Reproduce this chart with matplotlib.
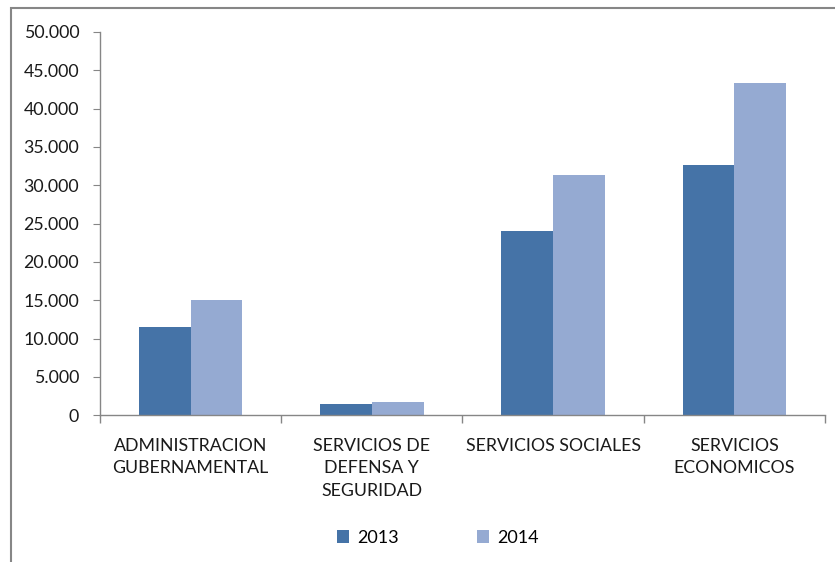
import matplotlib.pyplot as plt
import numpy as np
from matplotlib.patches import Rectangle
from matplotlib.ticker import FuncFormatter, FixedLocator

categorias = ["ADMINISTRACION\nGUBERNAMENTAL", "SERVICIOS DE\nDEFENSA Y\nSEGURIDAD",
              "SERVICIOS SOCIALES", "SERVICIOS\nECONOMICOS"]
valores_2013 = [11500, 1450, 24100, 32650]
valores_2014 = [15000, 1700, 31350, 43350]
series = ["2013", "2014"]
colores = ["#4573A7", "#95AAD2"]


def miles(v, pos):
    return "{:,.0f}".format(v).replace(",", ".")


def main():
    plt.rcParams['font.family'] = ['Lato', 'DejaVu Sans']
    fig = plt.figure(figsize=(8.35, 5.62), dpi=100)

    # marco exterior del grafico
    fig.patches.append(Rectangle((11 / 835, -0.05), 1.2, 1 - 8 / 562 + 0.05,
                                 transform=fig.transFigure, fill=False,
                                 edgecolor="#868686", linewidth=1.5))

    ax = fig.add_axes([100 / 835, 1 - 415.3 / 562, 725 / 835, (415.3 - 32) / 562])
    x = np.arange(len(categorias))
    w = 0.285
    b1 = ax.bar(x - w / 2, valores_2013, w, color=colores[0], label=series[0])
    b2 = ax.bar(x + w / 2, valores_2014, w, color=colores[1], label=series[1])

    ax.set_xlim(-0.5, len(categorias) - 0.5)
    ax.set_ylim(0, 50000)
    ax.set_yticks(np.arange(0, 50001, 5000))
    ax.yaxis.set_major_formatter(FuncFormatter(miles))
    ax.set_xticks(x)
    ax.set_xticklabels(categorias, fontsize=12.8, color="#1a1a1a", linespacing=1.5,
                       va="top")
    ax.xaxis.set_minor_locator(FixedLocator(np.arange(-0.5, len(categorias), 1.0)))
    ax.tick_params(axis="x", which="major", length=0, pad=16)
    ax.tick_params(axis="x", which="minor", length=6, color="#868686", width=1)
    ax.tick_params(axis="y", length=5, color="#868686", labelsize=12.8,
                   labelcolor="#1a1a1a", pad=10)

    for s in ["top", "right"]:
        ax.spines[s].set_visible(False)
    for s in ["left", "bottom"]:
        ax.spines[s].set_color("#868686")
        ax.spines[s].set_linewidth(1)

    fig.legend(handles=[b1, b2], loc="center", bbox_to_anchor=(438 / 835, 1 - 538 / 562),
               ncol=2, frameon=False, fontsize=13, handlelength=0.7, handleheight=0.7,
               columnspacing=4.3, handletextpad=0.45)

    plt.savefig("out.png", dpi=100)
    plt.close()


if __name__ == "__main__":
    main()
